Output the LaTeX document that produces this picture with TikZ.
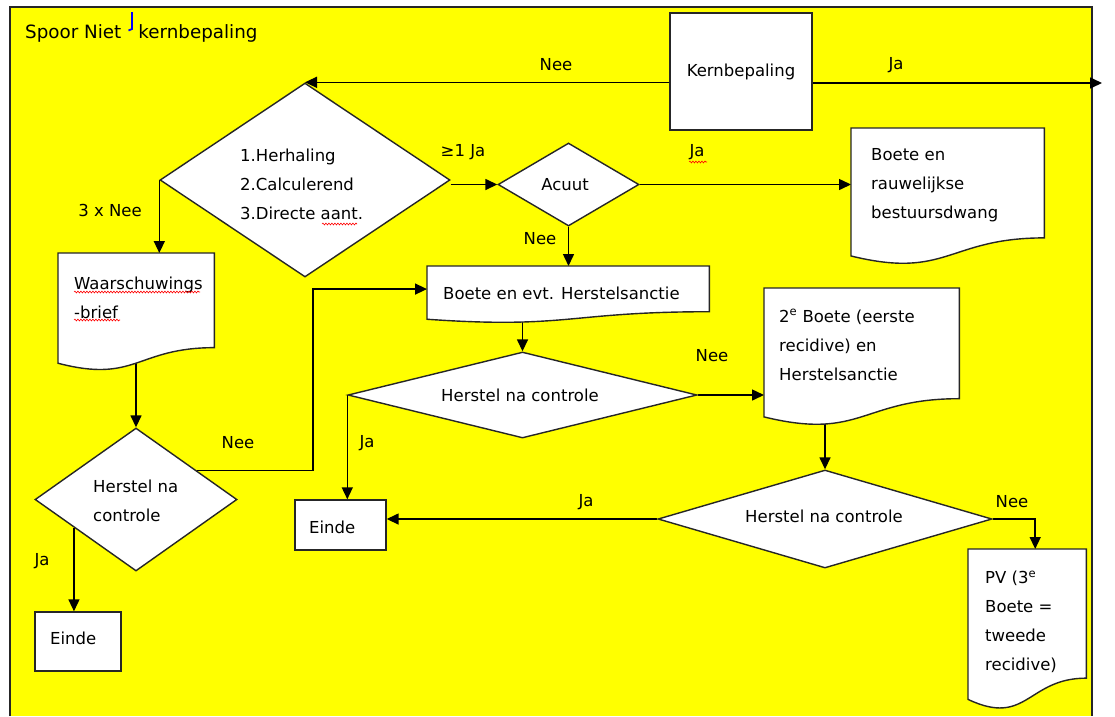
\documentclass[tikz,border=0pt]{standalone}
\usepackage{fontspec}
\setmainfont{DejaVu Sans}
\usetikzlibrary{shapes.geometric,arrows.meta,calc,decorations.pathmorphing}
\pgfdeclarelayer{bgl}
\pgfdeclarelayer{conn}
\pgfsetlayers{bgl,conn,main}
\definecolor{bgyellow}{HTML}{FFFF00}
\definecolor{edgegray}{HTML}{262626}
\newcommand{\lblfont}{\fontsize{16.5}{29}\selectfont}
\newcommand{\ttlfont}{\fontsize{18.3}{22}\selectfont}
\tikzset{
  shapeline/.style={draw=edgegray, line width=1.4pt, fill=white},
  boxnode/.style={shapeline, rectangle, inner sep=0pt, font=\lblfont},
  dia/.style={shapeline, diamond, inner sep=0pt},
  docbox/.style={rectangle, inner sep=0pt, draw=none},
  lbl/.style={font=\lblfont, inner sep=0pt, text=black},
  mlbl/.style={lbl, align=left, anchor=west},
  conn/.style={draw=black, line width=1.5pt, -{Triangle[length=12pt,width=11pt]}},
  squig/.style={draw=red, line width=0.6pt, decorate, decoration={snake, segment length=3pt, amplitude=0.9pt}},
}
\newcommand{\docnode}[5]{%
  \pgfmathsetmacro{\dochh}{0.802*#5}%
  \node[docbox, minimum width=#4pt, minimum height=\dochh pt, anchor=north west] (#1) at (#2,#3) {};
  \path[shapeline] (#1.north west) -- (#1.north east) -- ($(#1.north east)+(0,0.802*#5)$)
    .. controls ($(#1.north)+(0,0.802*#5)$) and ($(#1.north)+(0,1.1075*#5)$) .. ($(#1.north west)+(0,0.934*#5)$) -- cycle;
}
\begin{document}
\begin{tikzpicture}[x=1pt,y=-1pt]
\useasboundingbox (0,0) rectangle (1115,716);
\begin{pgfonlayer}{bgl}
  \fill[white] (0,0) rectangle (1115,716);
  \fill[bgyellow] (10,7) rectangle (1092,716);
  \draw[edgegray, line width=1.5pt] (10,716) -- (10,7) -- (1092,7) -- (1092,716);
\end{pgfonlayer}

% title
\node[anchor=west, inner sep=0pt, font=\ttlfont] (title) at (25,33) {Spoor Niet\hspace{17pt}kernbepaling};
\draw[blue, line width=1.8pt] (132,12) -- (132,29) -- (128.5,30.5);

% shapes
\node[boxnode, minimum width=142pt, minimum height=117pt] (kern) at (741,71.5) {Kernbepaling};

\node[dia, minimum width=290pt, minimum height=194pt] (d1) at (305,180) {};
\node[mlbl] (d1t) at (240,184) {1.Herhaling\\2.Calculerend\\3.Directe aant.};

\node[dia, minimum width=141pt, minimum height=83pt] (acuut) at (568.5,184.5) {};
\node[lbl] (acuutt) at (565,185) {Acuut};

\docnode{rauw}{851}{128}{193}{137}
\node[mlbl] (rauwt) at (871,185.5) {Boete en\\rauwelijkse\\bestuursdwang};

\docnode{boete}{427}{266}{282}{57}
\node[mlbl] (boetet) at (443,293) {Boete en evt. Herstelsanctie};

\node[dia, minimum width=349pt, minimum height=86pt] (d2) at (522.5,395) {};
\node[lbl] (d2t) at (520,395) {Herstel na controle};

\docnode{tweede}{764}{288}{195}{138}
\node[mlbl] (tweedet) at (779,345) {2\textsuperscript{e} Boete (eerste\\recidive) en\\Herstelsanctie};

\node[boxnode, minimum width=91pt, minimum height=50pt] (einde2) at (340.5,525) {};
\node[lbl, anchor=west] (einde2t) at (309,527) {Einde};

\node[dia, minimum width=334pt, minimum height=98pt] (d3) at (825,519) {};
\node[lbl] (d3t) at (824,516) {Herstel na controle};

\docnode{pv}{968}{549}{118}{161}
\node[mlbl] (pvt) at (985,621.5) {PV (3\textsuperscript{e}\\Boete =\\tweede\\recidive)};

\docnode{waar}{58}{253}{156}{118}
\node[mlbl] (waart) at (74,297.5) {Waarschuwings\\-brief};

\node[dia, minimum width=202pt, minimum height=143pt] (d4) at (136,499.5) {};
\node[mlbl] (d4t) at (93,501) {Herstel na\\controle};

\node[boxnode, minimum width=86pt, minimum height=59pt] (einde1) at (78,641.5) {};
\node[lbl, anchor=west] (einde1t) at (50,638) {Einde};

% connectors
\coordinate (exitR) at (1102,83);
\coordinate (pvin) at ($(pv.north)+(8,0)$);
\coordinate (nee4) at ($(d4.north)!0.6!(d4.east)$);
\coordinate (bend) at (313,0);
\coordinate (ja4) at ($(d4.west)!0.39!(d4.south)$);
\begin{pgfonlayer}{conn}
  \draw[conn] (kern.west |- d1.north) -- (d1.north);
  \draw[conn] (kern.east |- exitR) -- (exitR);
  \draw[conn] (d1.east |- acuut.west) -- (acuut.west);
  \draw[conn] (acuut.east) -- (acuut.east -| rauw.west);
  \draw[conn] (acuut.south) -- (acuut.south |- boete.north);
  \draw[conn] (d2.north |- boete.south) -- (d2.north);
  \draw[conn] (d2.east) -- (d2.east -| tweede.west);
  \draw[conn] (d2.west) -- (d2.west |- einde2.north);
  \draw[conn] (d3.north |- tweede.south) -- (d3.north);
  \draw[conn] (d3.west) -- (d3.west -| einde2.east);
  \draw[conn] (d3.east) -| (pvin);
  \draw[conn] (d1.west) -- (d1.west |- waar.north);
  \draw[conn] (d4.north |- waar.south) -- (d4.north);
  \draw[conn] (nee4) -| (bend |- boete.west) -- (boete.west);
  \draw[conn] (ja4) -- (ja4 |- einde1.north);
\end{pgfonlayer}

% labels
\node[lbl] (lNee1) at (556,65) {Nee};
\node[lbl] (lJa1) at (896,65) {Ja};
\node[lbl] (lJa2) at (463,152) {≥1 Ja};
\node[lbl] (lJa3) at (697,152) {Ja};
\node[lbl] (lNee2) at (540,239) {Nee};
\node[lbl] (l3xNee) at (110,210) {3 x Nee};
\node[lbl] (lNee3) at (712,356) {Nee};
\node[lbl] (lJa4) at (367,443) {Ja};
\node[lbl] (lNee4) at (238,443) {Nee};
\node[lbl] (lJa5) at (42,561) {Ja};
\node[lbl] (lJa6) at (586,502) {Ja};
\node[lbl] (lNee5) at (1012,502) {Nee};

% spell-check squiggles
\draw[squig] (74,292) -- (200,292);
\draw[squig] (74,320) -- (120,320);
\draw[squig] (322,224) -- (357,224);
\draw[squig] (689,162) -- (707,162);
\end{tikzpicture}
\end{document}
